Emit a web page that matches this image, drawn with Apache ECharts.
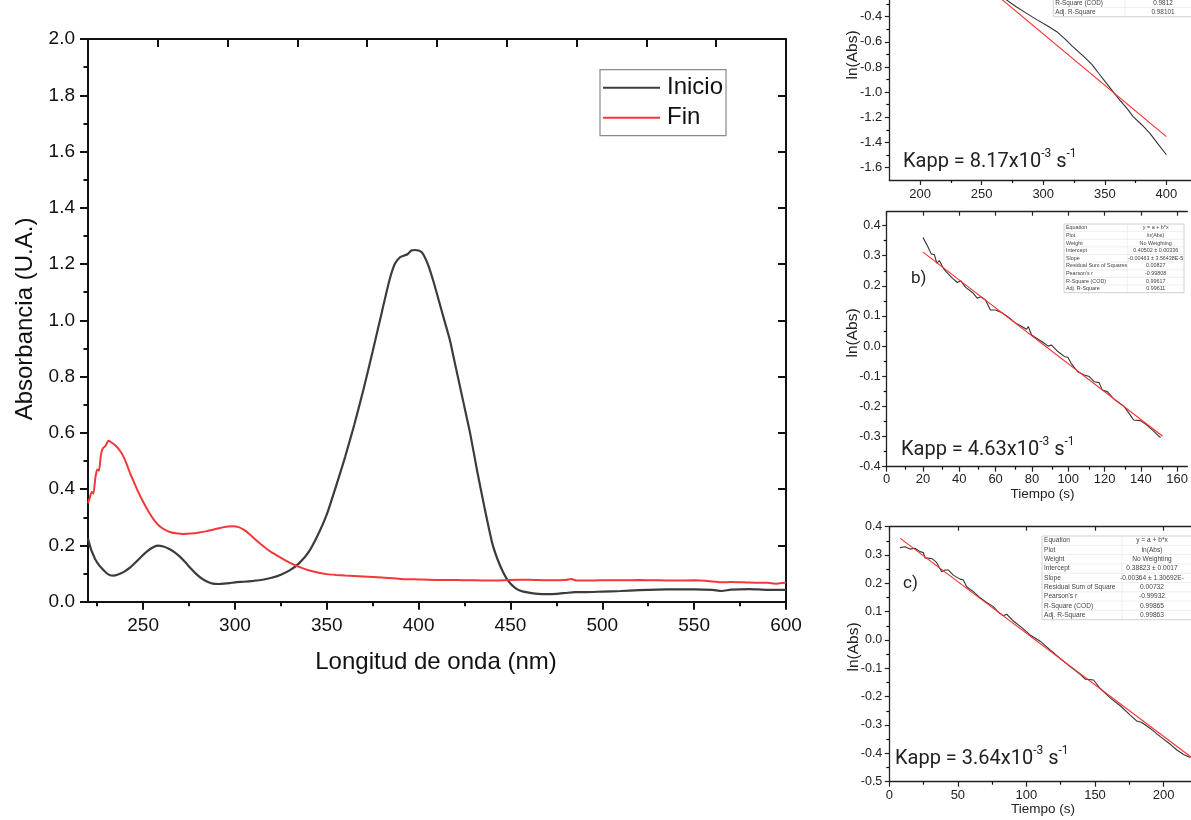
<!DOCTYPE html>
<html><head><meta charset="utf-8">
<script src="https://cdn.jsdelivr.net/npm/echarts@6/dist/echarts.min.js"></script>
<style>html,body{margin:0;padding:0;background:#fff}#c{width:1191px;height:820px}</style>
</head><body><div id="c"></div>
<script>
// ---------- Main spectrum ----------
const wlInicio = [220,221,222,223,224,226,228,230,232,234,236,238,240,243,246,249,252,255,258,261,264,267,270,273,276,279,282,285,288,291,294,297,300,305,310,315,320,325,330,335,340,345,350,355,360,365,370,375,380,384,387,390,392,394,396,398,400,402,405,408,411,414,417,420,424,428,432,436,440,443,446,449,452,455,460,465,470,475,480,485,490,500,510,520,530,540,550,560,565,570,580,590,600];
const absInicio = [0.225,0.20,0.18,0.165,0.15,0.13,0.115,0.102,0.094,0.093,0.096,0.101,0.108,0.122,0.14,0.16,0.178,0.192,0.199,0.196,0.188,0.176,0.16,0.14,0.118,0.098,0.082,0.071,0.064,0.063,0.064,0.066,0.069,0.071,0.074,0.078,0.085,0.096,0.112,0.137,0.175,0.235,0.31,0.41,0.515,0.63,0.755,0.89,1.03,1.14,1.20,1.225,1.23,1.235,1.248,1.25,1.248,1.24,1.20,1.14,1.07,1.0,0.93,0.84,0.72,0.60,0.46,0.33,0.21,0.15,0.105,0.072,0.052,0.04,0.032,0.028,0.027,0.028,0.031,0.034,0.034,0.036,0.038,0.041,0.043,0.044,0.044,0.042,0.038,0.043,0.045,0.042,0.042];
const wlFin = [220,221,222,223,224,225,226,227,228,229,230,231,232,233,235,237,239,241,243,245,247,250,253,256,259,262,265,268,272,276,280,284,288,292,296,299,302,305,308,311,314,317,320,324,328,332,336,340,345,350,355,360,370,380,390,400,410,420,430,440,450,460,470,480,483,486,490,500,510,520,530,540,550,560,565,570,580,590,595,600];
const absFin = [0.35,0.37,0.39,0.385,0.44,0.47,0.465,0.52,0.545,0.55,0.56,0.572,0.57,0.565,0.555,0.54,0.52,0.49,0.455,0.425,0.395,0.355,0.32,0.29,0.268,0.255,0.247,0.243,0.241,0.242,0.245,0.25,0.256,0.262,0.267,0.268,0.265,0.255,0.24,0.222,0.205,0.189,0.175,0.16,0.145,0.132,0.121,0.112,0.104,0.098,0.095,0.093,0.09,0.086,0.081,0.079,0.077,0.077,0.076,0.075,0.077,0.078,0.076,0.077,0.081,0.075,0.075,0.076,0.076,0.077,0.076,0.075,0.076,0.072,0.069,0.07,0.068,0.067,0.064,0.068];
const mainXTicks = [250,300,350,400,450,500,550,600];
const mainXMinor = [225,275,325,375,425,475,525,575];
const mainYTicks = [0,0.2,0.4,0.6,0.8,1.0,1.2,1.4,1.6,1.8,2.0];
const mainYMinor = [0.1,0.3,0.5,0.7,0.9,1.1,1.3,1.5,1.7,1.9];

// ---------- Panel a ----------
const tA = [262,270,278,286.5,295,303,311,318,324,331,336,340,345,351.4,357,362,368,373,380,386.5,393,400];
const lnA = [-0.215,-0.265,-0.32,-0.373,-0.425,-0.47,-0.519,-0.58,-0.638,-0.70,-0.745,-0.785,-0.85,-0.93,-1.0,-1.062,-1.13,-1.195,-1.26,-1.327,-1.41,-1.499];
const fitTA = [255,400];
const fitLnA = [-0.169,-1.354];
const aXTicks = [200,250,300,350,400];
const aXMinor = [225,275,325,375];
const aYTicks = [-1.6,-1.4,-1.2,-1.0,-0.8,-0.6,-0.4];
const aYMinor = [-1.5,-1.3,-1.1,-0.9,-0.7,-0.5,-0.3];

// ---------- Panel b ----------
const tB = [20,22.7,24.5,26.3,27.6,29,30,31.2,32.7,36.3,39,40.8,43.5,47.2,49.9,51.7,54.4,55.3,57.1,59.9,63.5,67.1,70.7,74.4,77.1,78,79.8,83.4,86.2,88.9,90.7,94.3,98,99.8,101.6,105.2,108.8,111.6,114.3,117,118.8,121.5,125.2,127.9,130.6,134.2,136,139.7,143.3,146.9,149.7,150.9];
const lnB = [0.36,0.33,0.306,0.303,0.275,0.284,0.286,0.258,0.247,0.225,0.211,0.217,0.195,0.178,0.159,0.164,0.153,0.142,0.12,0.12,0.111,0.096,0.078,0.065,0.056,0.065,0.037,0.023,0.012,0.0,0.004,-0.018,-0.035,-0.037,-0.057,-0.085,-0.096,-0.101,-0.118,-0.121,-0.146,-0.151,-0.176,-0.188,-0.199,-0.229,-0.245,-0.247,-0.262,-0.281,-0.298,-0.303];
const fitTB = [20,152];
const fitLnB = [0.312,-0.299];
const bXTicks = [0,20,40,60,80,100,120,140,160];
const bXMinor = [10,30,50,70,90,110,130,150];
const bYTicks = [-0.4,-0.3,-0.2,-0.1,0.0,0.1,0.2,0.3,0.4];
const bYMinor = [-0.35,-0.25,-0.15,-0.05,0.05,0.15,0.25,0.35];

// ---------- Panel c ----------
const tC = [7.8,11.4,15.1,18.7,22.4,24.8,26,30.9,34.5,38.2,40.6,43.1,46.7,51.6,54,56.4,61.3,66.2,71,75.9,79.6,83.2,85.6,90.5,96.6,102.7,110,117.3,124.6,131.9,139.2,142.8,148.9,153.8,161.1,168.4,175.7,180.5,184.2,190.3,197.6,204.9,209.7,214.6,219.5];
const lnC = [0.326,0.329,0.321,0.324,0.312,0.309,0.29,0.288,0.274,0.241,0.247,0.247,0.229,0.215,0.212,0.188,0.171,0.149,0.133,0.118,0.098,0.086,0.091,0.067,0.044,0.018,-0.004,-0.035,-0.065,-0.094,-0.121,-0.138,-0.141,-0.171,-0.204,-0.232,-0.265,-0.286,-0.291,-0.312,-0.341,-0.368,-0.388,-0.404,-0.415];
const fitTC = [8,220];
const fitLnC = [0.359,-0.413];
const cXTicks = [0,50,100,150,200];
const cXMinor = [25,75,125,175];
const cYTicks = [-0.5,-0.4,-0.3,-0.2,-0.1,0.0,0.1,0.2,0.3,0.4];
const cYMinor = [-0.45,-0.35,-0.25,-0.15,-0.05,0.05,0.15,0.25,0.35];

// ---------- Fit tables ----------
const tableLabels = ["Equation","Plot","Weight","Intercept","Slope","Residual Sum of Squares","Pearson's r","R-Square (COD)","Adj. R-Square"];
const tableLabelsC = ["Equation","Plot","Weight","Intercept","Slope","Residual Sum of Square","Pearson's r","R-Square (COD)","Adj. R-Square"];
const tableValuesB = ["y = a + b*x","ln(Abs)","No Weighting","0.40502 ± 0.00336","-0.00463 ± 3.56438E-5","0.00827","-0.99808","0.99617","0.99611"];
const tableValuesC = ["y = a + b*x","ln(Abs)","No Weighting","0.38823 ± 0.0017","-0.00364 ± 1.30692E-","0.00732","-0.99932","0.99865","0.99863"];
const tableLabelsA = ["R-Square (COD)","Adj. R-Square"];
const tableValuesA = ["0.9812","0.98101"];

const zip = (xs, ys) => xs.map((x, i) => [x, ys[i]]);
const SANS = 'Liberation Sans, Arial, sans-serif';

function tstyle(t, fs, align, color) {
  return {text:t, fill:color||'#333', font: fs + 'px ' + SANS, align:align, verticalAlign:'middle', textAlign:align, textVerticalAlign:'middle'};
}
function txt(x, y, t, fs, align, color, extra) {
  return Object.assign({type:'text', x:x, y:y, silent:true, style:tstyle(t, fs, align, color)}, extra||{});
}
function table(x0, xm, x1, vc, y0, rh, fs, labels, values) {
  const els = [], n = labels.length, h = rh*n;
  els.push({type:'rect', silent:true, shape:{x:x0,y:y0,width:x1-x0,height:h}, style:{fill:'#fff', stroke:'#c4c4c4', lineWidth:0.8}});
  for (let i=1;i<n;i++) els.push({type:'line', silent:true, shape:{x1:x0,y1:y0+i*rh,x2:x1,y2:y0+i*rh}, style:{stroke:'#e2e2e2', lineWidth:0.6}});
  els.push({type:'line', silent:true, shape:{x1:xm,y1:y0,x2:xm,y2:y0+h}, style:{stroke:'#e2e2e2', lineWidth:0.6}});
  labels.forEach((t,i) => {
    els.push(txt(x0+2, y0+(i+0.5)*rh, t, fs, 'left', '#444'));
    els.push(txt(vc, y0+(i+0.5)*rh, values[i], fs, 'center', '#444'));
  });
  return els;
}
function kapp(x, y, val) {
  return {type:'text', x:x, y:y, silent:true, z:10,
    style:{text:'{b|Kapp = ' + val + 'x10}{s|-3}{b| s}{s|-1}', fill:'#222', align:'left', verticalAlign:'middle', textAlign:'left', textVerticalAlign:'middle',
      rich:{ b:{fontSize:20, fontFamily:'Roboto', fill:'#222', color:'#222', lineHeight:24, verticalAlign:'bottom'},
             s:{fontSize:12, fontFamily:'Roboto', fill:'#222', color:'#222', lineHeight:14, verticalAlign:'top'} }}};
}
function rotTitle(x, y, t, fs, color) {
  return txt(x, y, t, fs, 'center', color||'#222', {rotation: Math.PI/2});
}

const G = [
  {left:88, top:39, width:698, height:562.7},
  {left:889.3, top:0, width:301.7, height:180},
  {left:886.7, top:211.7, width:304.3, height:255},
  {left:889.3, top:526.7, width:301.7, height:255}
];
const grids = G.concat(G.map(g => Object.assign({}, g)));

const mainLine = {onZero:false, lineStyle:{color:'#111', width:2}};
const panLine = {onZero:false, lineStyle:{color:'#222', width:1.3}};
const fmt1 = v => (Math.abs(v) < 1e-9 ? 0 : v).toFixed(1);
const fmt0 = v => String(Math.round(v));

function axisBase(opts) {
  return Object.assign({type:'value', splitLine:{show:false}, axisPointer:{show:false}}, opts);
}
function hiddenMinor(gridIndex, pos, min, max, ticks, len, width) {
  return axisBase({gridIndex:gridIndex, position:pos, min:min, max:max, axisLine:{show:false, onZero:false}, axisLabel:{show:false},
    axisTick:{show:true, inside:false, length:len, customValues:ticks, lineStyle:{color:'#111', width:width}}});
}

const xAxis = [
  axisBase({gridIndex:0, position:'bottom', min:220, max:600, axisLine:mainLine,
    axisTick:{length:8, customValues:mainXTicks, lineStyle:{color:'#111', width:2}},
    axisLabel:{customValues:mainXTicks, formatter:fmt0, fontSize:19, color:'#111', fontFamily:SANS, margin:15}}),
  axisBase({gridIndex:0, position:'top', min:220, max:600, interval:38, axisLine:mainLine,
    axisTick:{inside:true, length:8, lineStyle:{color:'#111', width:2}}, axisLabel:{show:false}}),
  axisBase({gridIndex:1, position:'bottom', min:175, max:420, axisLine:panLine,
    axisTick:{length:5, customValues:aXTicks, lineStyle:{color:'#222', width:1.2}},
    axisLabel:{customValues:aXTicks, formatter:fmt0, fontSize:13, color:'#222', fontFamily:SANS, margin:8}}),
  axisBase({gridIndex:2, position:'bottom', min:0, max:165.6, axisLine:panLine,
    axisTick:{length:5, customValues:bXTicks, lineStyle:{color:'#222', width:1.2}},
    axisLabel:{customValues:bXTicks, formatter:fmt0, fontSize:13, color:'#222', fontFamily:SANS, margin:6}}),
  axisBase({gridIndex:2, position:'top', min:0, max:165.6, axisLine:panLine,
    axisTick:{inside:true, length:4, customValues:bXTicks, lineStyle:{color:'#222', width:1.2}}, axisLabel:{show:false}}),
  axisBase({gridIndex:3, position:'bottom', min:0, max:220, axisLine:panLine,
    axisTick:{length:5, customValues:cXTicks, lineStyle:{color:'#222', width:1.2}},
    axisLabel:{customValues:cXTicks, formatter:fmt0, fontSize:13, color:'#222', fontFamily:SANS, margin:7}}),
  axisBase({gridIndex:3, position:'top', min:0, max:220, axisLine:panLine,
    axisTick:{inside:true, length:4, customValues:cXTicks, lineStyle:{color:'#222', width:1.2}}, axisLabel:{show:false}}),
  hiddenMinor(4, 'bottom', 220, 600, mainXMinor, 4.5, 2),
  hiddenMinor(5, 'bottom', 175, 420, aXMinor, 3, 1.2),
  hiddenMinor(6, 'bottom', 0, 165.6, bXMinor, 3, 1.2),
  hiddenMinor(7, 'bottom', 0, 220, cXMinor, 3, 1.2)
];

const yAxis = [
  axisBase({gridIndex:0, position:'left', min:0, max:2, axisLine:mainLine,
    axisTick:{length:8, customValues:mainYTicks, lineStyle:{color:'#111', width:2}},
    axisLabel:{customValues:mainYTicks, formatter:fmt1, fontSize:19, color:'#111', fontFamily:SANS, margin:13}}),
  axisBase({gridIndex:0, position:'right', min:0, max:2, interval:0.2, axisLine:mainLine,
    axisTick:{inside:true, length:8, lineStyle:{color:'#111', width:2}}, axisLabel:{show:false}}),
  axisBase({gridIndex:1, position:'left', min:-1.7, max:-0.2667, axisLine:panLine,
    axisTick:{length:4.5, customValues:aYTicks, lineStyle:{color:'#222', width:1.2}},
    axisLabel:{customValues:aYTicks, formatter:fmt1, fontSize:13, color:'#222', fontFamily:SANS, margin:7}}),
  axisBase({gridIndex:2, position:'left', min:-0.4, max:0.446, axisLine:panLine,
    axisTick:{length:4.5, customValues:bYTicks, lineStyle:{color:'#222', width:1.2}},
    axisLabel:{customValues:bYTicks, formatter:fmt1, fontSize:12.5, color:'#222', fontFamily:SANS, margin:6}}),
  axisBase({gridIndex:3, position:'left', min:-0.5, max:0.4, axisLine:panLine,
    axisTick:{length:4.5, customValues:cYTicks, lineStyle:{color:'#222', width:1.2}},
    axisLabel:{customValues:cYTicks, formatter:fmt1, fontSize:12.5, color:'#222', fontFamily:SANS, margin:7}}),
  hiddenMinor(4, 'left', 0, 2, mainYMinor, 4.5, 2),
  hiddenMinor(5, 'left', -1.7, -0.2667, aYMinor, 3, 1.2),
  hiddenMinor(6, 'left', -0.4, 0.446, bYMinor, 3, 1.2),
  hiddenMinor(7, 'left', -0.5, 0.4, cYMinor, 3, 1.2)
];

const GRAY = '#3c3c3c', RED = '#f2383a';
function ser(name, xi, yi, data, color, width, z, smooth) {
  return {name:name, type:'line', xAxisIndex:xi, yAxisIndex:yi, data:data, showSymbol:false, symbol:'none',
    clip:true, z:z||2, smooth:smooth||false, lineStyle:{color:color, width:width}, itemStyle:{color:color}, emphasis:{disabled:true}};
}

const graphics = [].concat(
  table(1064, 1127.3, 1184, 1155.7, 224, 7.63, 5.4, tableLabels, tableValuesB),
  table(1042, 1122, 1200, 1152, 536, 9.3, 6.6, tableLabelsC, tableValuesC),
  table(1053.3, 1125, 1205, 1163, -1.9, 9.3, 6.4, tableLabelsA, tableValuesA),
  [
    kapp(903, 160, '8.17'),
    kapp(901, 448, '4.63'),
    kapp(895, 757, '3.64'),
    {type:'text', x:911, y:279, silent:true, style:{text:'b)', fill:'#222', font:'17px Roboto', align:'left', verticalAlign:'middle', textAlign:'left', textVerticalAlign:'middle'}},
    {type:'text', x:903, y:584, silent:true, style:{text:'c)', fill:'#222', font:'17px Roboto', align:'left', verticalAlign:'middle', textAlign:'left', textVerticalAlign:'middle'}},
    rotTitle(853, 55, 'ln(Abs)', 15.5),
    rotTitle(853, 333, 'ln(Abs)', 15.5),
    rotTitle(854, 647, 'ln(Abs)', 15.5),
    txt(1042.5, 494, 'Tiempo (s)', 13.5, 'center', '#222'),
    txt(1043, 809, 'Tiempo (s)', 13.5, 'center', '#222'),
    rotTitle(25, 319, 'Absorbancia (U.A.)', 24, '#111'),
    txt(436, 662, 'Longitud de onda (nm)', 24, 'center', '#111')
  ]
);

const option = {
  animation:false,
  backgroundColor:'#ffffff',
  grid: grids,
  xAxis: xAxis,
  yAxis: yAxis,
  legend: {data:['Inicio','Fin'], orient:'vertical', left:600, top:69.7, icon:'rect', itemWidth:57, itemHeight:2,
    itemGap:0, padding:[3,3,3,3], borderColor:'#8a8a8a', borderWidth:1.2, selectedMode:false,
    textStyle:{fontSize:24, fontFamily:SANS, color:'#111', lineHeight:30, padding:[0,0,0,2]}},
  series: [
    ser('Inicio', 0, 0, zip(wlInicio, absInicio), GRAY, 2.2, 3, 0.2),
    ser('Fin', 0, 0, zip(wlFin, absFin), RED, 2, 3, 0.15),
    ser('a datos', 2, 2, zip(tA, lnA), '#333', 1.1),
    ser('a ajuste', 2, 2, zip(fitTA, fitLnA), '#ff2d2d', 1.1),
    ser('b datos', 3, 3, zip(tB, lnB), '#333', 1.1),
    ser('b ajuste', 3, 3, zip(fitTB, fitLnB), '#ff2d2d', 1.1),
    ser('c datos', 5, 4, zip(tC, lnC), '#333', 1.1),
    ser('c ajuste', 5, 4, zip(fitTC, fitLnC), '#ff2d2d', 1.1)
  ],
  graphic: graphics
};

const chart = echarts.init(document.getElementById('c'), null, {renderer:'canvas'});
chart.setOption(option);
</script>
</body></html>
